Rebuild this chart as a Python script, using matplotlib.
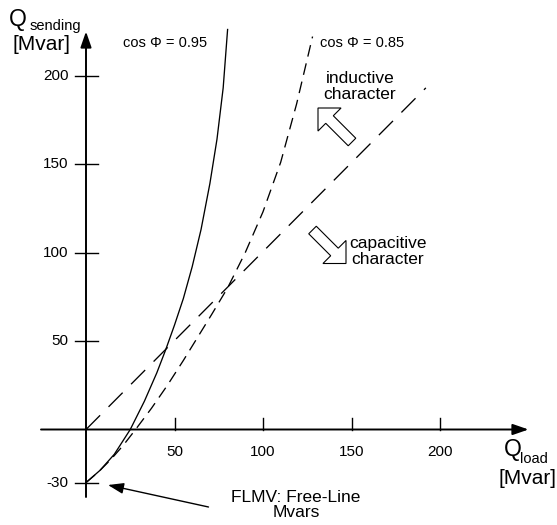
import matplotlib
matplotlib.use("Agg")
import matplotlib.pyplot as plt
from matplotlib.patches import FancyArrow

plt.rcParams['font.family'] = ['Liberation Sans', 'DejaVu Sans']
plt.rcParams['lines.scale_dashes'] = False

# curve data (Q_load, Q_sending) in Mvar
q_load_095 = [0, 8, 16, 25, 33, 40, 45, 50, 55, 60, 65, 70, 74, 77.5, 80]
q_send_095 = [-30, -23, -14, 0, 16, 32, 45, 59, 74, 92, 113, 139, 164, 193, 226]

q_load_085 = [0, 7, 14, 21, 28, 37, 46, 55, 63, 71, 80, 90, 100, 110, 119, 128]
q_send_085 = [-30, -24, -17, -9, 0, 12, 25, 39, 52, 65, 80, 100, 123, 151, 184, 222]

q_load_ref = [0, 192]
q_send_ref = [0, 193]

x_ticks = [50, 100, 150, 200]
y_ticks = [50, 100, 150, 200, -30]

# pixel -> data mapping for the 557x525 canvas
X0, Y0, S = 86.0, 429.5, 1.77
W, H = 557, 525


def px(x, y):
    return (x - X0) / S, (Y0 - y) / S


fig = plt.figure(figsize=(W / 100, H / 100), dpi=100)
ax = fig.add_axes([0, 0, 1, 1])
ax.set_xlim(px(0, 0)[0], px(W, 0)[0])
ax.set_ylim(px(0, H)[1], px(0, 0)[1])
ax.axis('off')

# axes with arrow heads
arrow_kw = dict(arrowstyle='-|>,head_length=0.95,head_width=0.33', lw=1.4,
                color='black', mutation_scale=10, shrinkA=0, shrinkB=0)
ax.annotate('', xy=px(528.5, Y0), xytext=px(41, Y0), arrowprops=arrow_kw)
ax.annotate('', xy=px(X0, 31.5), xytext=px(X0, 497), arrowprops=arrow_kw)

# tick marks and labels
for t in x_ticks:
    ax.plot([t, t], [0, 12 / S], color='black', lw=1.0)
    ax.text(t, px(0, 451.5)[1], str(t), ha='center', va='center', fontsize=11)
for t in y_ticks:
    ax.plot([-11.5 / S, 11.5 / S], [t, t], color='black', lw=1.0)
    ax.text(px(68.5, 0)[0], t, str(t), ha='right', va='center', fontsize=11)

# curves
ax.plot(q_load_095, q_send_095, color='black', lw=0.95)
ax.plot(q_load_085, q_send_085, color='black', lw=0.95, dashes=(8.5, 5))
ax.plot(q_load_ref, q_send_ref, color='black', lw=0.95, dashes=(14.4, 8.6))

# labels for the curves
ax.text(*px(123, 43), 'cos \u03a6 = 0.95', ha='left', va='center', fontsize=10.5)
ax.text(*px(320, 43), 'cos \u03a6 = 0.85', ha='left', va='center', fontsize=10.5)

ax.text(*px(360, 86.5), 'inductive\ncharacter', ha='center', va='center',
        fontsize=12.5, linespacing=1.15)
ax.text(*px(387.5, 251.5), 'capacitive\ncharacter', ha='center', va='center',
        fontsize=12.5, linespacing=1.15)

# hollow direction arrows
def hollow_arrow(p_tail, p_tip):
    x0, y0 = px(*p_tail)
    x1, y1 = px(*p_tip)
    ax.add_patch(FancyArrow(x0, y0, x1 - x0, y1 - y0, width=10.7 / S,
                            head_width=32.6 / S, head_length=16.3 / S,
                            length_includes_head=True, fc='white', ec='black',
                            lw=0.8))


hollow_arrow((352, 142), (318, 108))
hollow_arrow((312.5, 230), (346, 263.5))

# free-line Mvars note
ax.annotate('', xy=px(108, 485), xytext=px(208.5, 507),
            arrowprops=dict(arrowstyle='-|>,head_length=0.95,head_width=0.33',
                            lw=1.0, color='black', mutation_scale=10,
                            shrinkA=0, shrinkB=0))
ax.text(*px(296, 505), 'FLMV: Free-Line\nMvars', ha='center', va='center',
        fontsize=12.5, linespacing=1.05)

# axis titles
ax.text(*px(9, 26), 'Q', ha='left', va='baseline', fontsize=16.5)
ax.text(*px(30, 29.5), 'sending', ha='left', va='baseline', fontsize=10.5)
ax.text(*px(12, 44), '[Mvar]', ha='left', va='center', fontsize=15)

ax.text(*px(504, 456), 'Q', ha='left', va='baseline', fontsize=16.5)
ax.text(*px(520, 463), 'load', ha='left', va='baseline', fontsize=10.5)
ax.text(*px(556.5, 478), '[Mvar]', ha='right', va='center', fontsize=15)

fig.savefig('out.png', dpi=100)
